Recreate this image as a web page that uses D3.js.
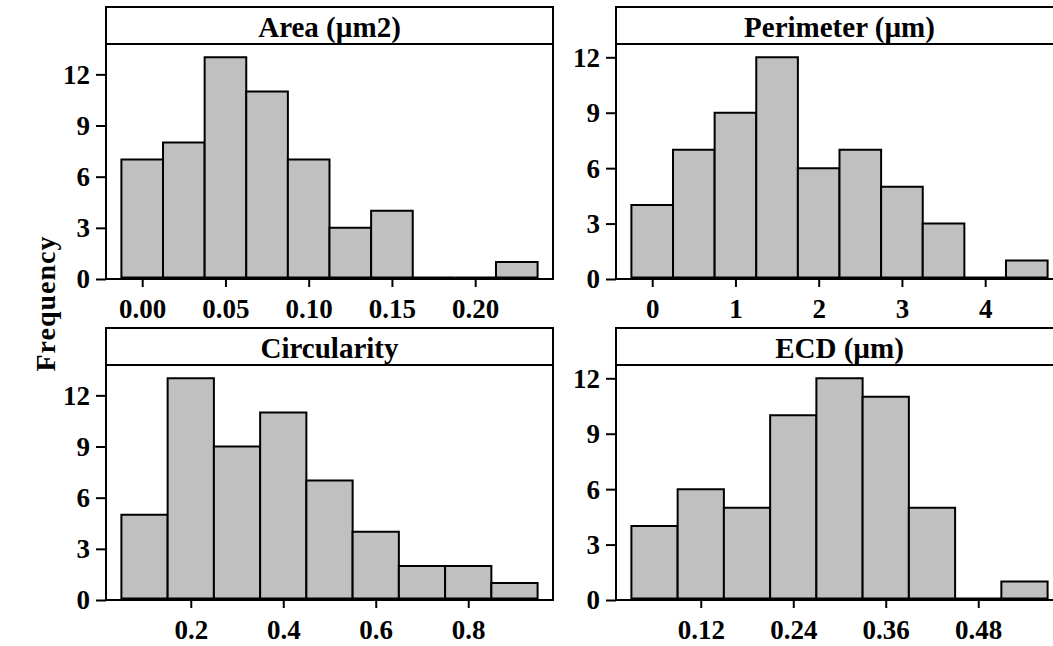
<!DOCTYPE html>
<html>
<head>
<meta charset="utf-8">
<script src="https://cdn.jsdelivr.net/npm/d3@7"></script>
<style>
  html, body { margin: 0; padding: 0; background: #fff; }
  svg { display: block; }
  text { font-family: "Liberation Serif", "Times New Roman", serif; font-weight: bold; fill: #000; }
</style>
</head>
<body>
<svg id="chart" width="1053" height="646"></svg>
<script>
// Bin midpoints and counts for each measured quantity
const areaMid = [0.000, 0.025, 0.050, 0.075, 0.100, 0.125, 0.150, 0.175, 0.200, 0.225];
const areaCount = [7, 8, 13, 11, 7, 3, 4, 0, 0, 1];
const areaTicks = [0.00, 0.05, 0.10, 0.15, 0.20];

const perimMid = [0, 0.5, 1, 1.5, 2, 2.5, 3, 3.5, 4, 4.5];
const perimCount = [4, 7, 9, 12, 6, 7, 5, 3, 0, 1];
const perimTicks = [0, 1, 2, 3, 4];

const circMid = [0.1, 0.2, 0.3, 0.4, 0.5, 0.6, 0.7, 0.8, 0.9];
const circCount = [5, 13, 9, 11, 7, 4, 2, 2, 1];
const circTicks = [0.2, 0.4, 0.6, 0.8];

const ecdMid = [0.06, 0.12, 0.18, 0.24, 0.30, 0.36, 0.42, 0.48, 0.54];
const ecdCount = [4, 6, 5, 10, 12, 11, 5, 0, 1];
const ecdTicks = [0.12, 0.24, 0.36, 0.48];

const freqTicks = [0, 3, 6, 9, 12];

const panels = [
  { title: "Area (\u00b5m2)", mid: areaMid, count: areaCount, bin: 0.025, ticks: areaTicks, fmt: d3.format(".2f"), col: 0, row: 0 },
  { title: "Perimeter (\u00b5m)", mid: perimMid, count: perimCount, bin: 0.5, ticks: perimTicks, fmt: d3.format("d"), col: 1, row: 0 },
  { title: "Circularity", mid: circMid, count: circCount, bin: 0.1, ticks: circTicks, fmt: d3.format(".1f"), col: 0, row: 1 },
  { title: "ECD (\u00b5m)", mid: ecdMid, count: ecdCount, bin: 0.06, ticks: ecdTicks, fmt: d3.format(".2f"), col: 1, row: 1 }
];

// Grid geometry
const colX = [106, 616];
const panelW = 447;
const rowTop = [7, 328];
const stripH = 37;
const rowAxis = [279, 600];

const svg = d3.select("#chart");

panels.forEach(p => {
  const x0 = colX[p.col], x1 = x0 + panelW;
  const top = rowTop[p.row], stripBottom = top + stripH, axisY = rowAxis[p.row];

  const lo = p.mid[0] - p.bin / 2, hi = p.mid[p.mid.length - 1] + p.bin / 2;
  const pad = (hi - lo) * 0.037;
  const x = d3.scaleLinear().domain([lo - pad, hi + pad]).range([x0, x1]);
  const y = d3.scaleLinear().domain([0, d3.max(p.count) * 1.06]).range([axisY, stripBottom]);

  const g = svg.append("g");

  // Bars (paths so that empty bins still show their outline on the baseline)
  g.selectAll("path.bar")
    .data(p.mid.map((m, i) => ({ m, c: p.count[i] })))
    .join("path")
    .attr("class", "bar")
    .attr("d", d => {
      const a = x(d.m - p.bin / 2), b = x(d.m + p.bin / 2);
      const yb = y(0) - 1.5, yt = Math.min(y(d.c), yb);
      return `M${a},${yb}V${yt}H${b}V${yb}Z`;
    })
    .attr("fill", "#c0c0c0")
    .attr("stroke", "#000")
    .attr("stroke-width", 2)
    .attr("stroke-linejoin", "miter");

  // Panel frame and title strip
  g.append("rect")
    .attr("x", x0).attr("y", top)
    .attr("width", panelW).attr("height", axisY - top)
    .attr("fill", "none").attr("stroke", "#000").attr("stroke-width", 2);
  g.append("line")
    .attr("x1", x0).attr("x2", x1)
    .attr("y1", stripBottom).attr("y2", stripBottom)
    .attr("stroke", "#000").attr("stroke-width", 2);
  g.append("text")
    .attr("x", (x0 + x1) / 2)
    .attr("y", stripBottom - 7.5)
    .attr("text-anchor", "middle")
    .attr("font-size", 29)
    .text(p.title);

  // Axes
  const xAxis = d3.axisBottom(x).tickValues(p.ticks).tickFormat(p.fmt).tickSize(8).tickPadding(5);
  const gx = g.append("g").attr("transform", `translate(0,${axisY})`).call(xAxis);
  gx.select(".domain").remove();
  gx.selectAll(".tick line").attr("stroke", "#000").attr("stroke-width", 2);
  gx.selectAll(".tick text").attr("font-size", 27).attr("font-family", null).attr("dy", "0.95em");

  const yAxis = d3.axisLeft(y).tickValues(freqTicks).tickFormat(d3.format("d")).tickSize(10).tickPadding(6);
  const gy = g.append("g").attr("transform", `translate(${x0},0)`).call(yAxis);
  gy.select(".domain").remove();
  gy.selectAll(".tick line").attr("stroke", "#000").attr("stroke-width", 2);
  gy.selectAll(".tick text").attr("font-size", 27).attr("font-family", null).attr("dy", "0.33em");
});

// Shared y-axis title
svg.append("text")
  .attr("transform", `translate(55,${(rowTop[0] + rowAxis[1]) / 2}) rotate(-90)`)
  .attr("text-anchor", "middle")
  .attr("font-size", 28)
  .attr("letter-spacing", 1)
  .text("Frequency");
</script>
</body>
</html>
